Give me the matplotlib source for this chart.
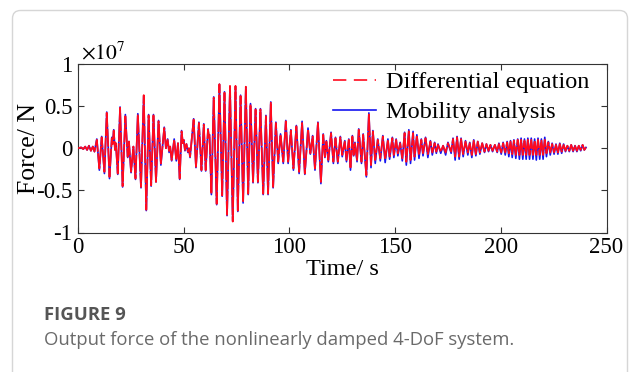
import matplotlib
matplotlib.use('Agg')
import matplotlib.pyplot as plt
from matplotlib.lines import Line2D
from matplotlib.patches import FancyBboxPatch

# ---- data (force in units of 1e7 N) ----
time_s = [
    0.0, 1.5, 2.5, 3.4, 4.3, 5.2, 6.1, 7.0, 7.8, 8.9,
    10.1, 11.2, 12.5, 13.6, 14.9, 16.0, 16.4, 16.9, 17.5, 17.9,
    18.8, 19.9, 21.1, 22.4, 23.5, 24.1, 25.1, 26.2, 27.2, 28.3,
    29.8, 31.1, 32.3, 33.4, 34.6, 35.7, 36.9, 38.1, 39.2, 40.8,
    41.6, 42.4, 43.1, 43.6, 44.3, 45.5, 46.5, 47.3, 48.1, 49.0,
    49.6, 50.0, 50.6, 51.3, 52.0, 52.5, 53.0, 54.7, 55.8, 57.2,
    58.4, 59.5, 60.4, 61.5, 61.9, 62.2, 63.1, 64.2, 65.6, 66.9,
    68.2, 69.3, 70.5, 71.9, 73.2, 74.5, 75.6, 76.9, 78.1, 79.4,
    80.5, 81.6, 82.8, 84.0, 85.1, 86.3, 87.6, 88.9, 89.9, 91.2,
    92.3, 93.6, 94.7, 95.8, 97.1, 98.3, 99.4, 100.7, 101.9, 103.3,
    104.6, 106.0, 107.3, 108.8, 109.9, 111.0, 112.1, 113.5, 114.9, 116.0,
    116.8, 117.5, 118.4, 119.7, 120.8, 121.8, 122.9, 124.1, 125.0, 126.2,
    127.0, 128.1, 128.9, 129.8, 130.4, 131.0, 132.0, 132.8, 134.1, 134.9,
    136.4, 137.6, 138.6, 139.5, 140.6, 141.8, 143.0, 144.2, 145.3, 146.6,
    147.4, 148.7, 149.4, 150.5, 151.3, 152.4, 153.4, 154.5, 155.3, 156.5,
    157.3, 158.5, 159.2, 160.3, 161.3, 162.4, 163.2, 164.4, 165.5, 166.7,
    167.6, 168.7, 169.5, 170.3, 171.6, 172.7, 173.9, 175.0, 176.5, 177.4,
    178.4, 179.3, 180.3, 181.2, 182.2, 183.3, 184.4, 185.3, 186.3, 187.2,
    188.2, 189.1, 190.1, 191.2, 192.3, 193.2, 194.2, 195.1, 196.1, 197.2,
    198.3, 199.1, 200.2, 201.1, 202.1, 203.0, 203.8, 204.6, 205.4, 206.2,
    207.1, 208.0, 208.8, 209.6, 210.4, 211.2, 212.0, 212.8, 213.6, 214.4,
    215.2, 216.0, 216.8, 217.6, 218.4, 219.2, 220.0, 220.8, 221.6, 222.5,
    223.4, 224.3, 225.2, 226.1, 227.0, 227.9, 228.8, 229.7, 230.6, 231.5,
    232.4, 233.3, 234.2, 235.1, 236.0, 236.9, 237.8, 238.7, 239.5, 240.3,
]

force_differential = [
    0.00, 0.01, -0.01, 0.02, -0.02, 0.03, -0.03, 0.02, -0.04, 0.10,
    -0.24, 0.13, -0.28, 0.42, -0.34, 0.12, 0.05, 0.21, -0.02, 0.06,
    -0.30, 0.48, -0.45, 0.38, -0.10, 0.08, -0.28, 0.02, -0.36, 0.40,
    -0.46, 0.63, -0.73, 0.39, -0.44, 0.39, -0.40, 0.32, -0.18, 0.24,
    0.00, 0.10, -0.04, 0.02, -0.14, 0.10, -0.14, 0.06, -0.36, 0.20,
    0.06, 0.10, -0.02, 0.05, -0.04, 0.00, -0.10, 0.34, -0.22, 0.30,
    -0.26, 0.28, -0.26, 0.22, 0.14, 0.16, -0.54, 0.60, -0.66, 0.76,
    -0.56, 0.66, -0.79, 0.74, -0.87, 0.74, -0.74, 0.62, -0.64, 0.73,
    -0.54, 0.52, -0.40, 0.46, -0.40, 0.46, -0.54, 0.38, -0.54, 0.54,
    -0.46, 0.30, -0.16, 0.16, -0.16, 0.32, -0.16, 0.21, -0.24, 0.26,
    -0.28, 0.30, -0.30, 0.22, -0.06, 0.14, -0.24, 0.30, -0.40, 0.16,
    -0.10, 0.08, -0.14, 0.18, -0.16, 0.12, -0.16, 0.13, -0.08, 0.08,
    -0.14, 0.10, -0.24, 0.14, -0.08, 0.06, -0.14, 0.22, -0.16, 0.16,
    -0.32, 0.40, -0.20, 0.20, -0.14, 0.10, -0.12, 0.14, -0.13, 0.10,
    -0.10, 0.12, -0.08, 0.10, -0.06, 0.06, -0.12, 0.18, -0.16, 0.20,
    -0.14, 0.18, -0.10, 0.15, -0.08, 0.10, -0.06, 0.12, -0.07, 0.08,
    -0.05, 0.06, -0.04, 0.04, -0.04, 0.03, -0.05, 0.06, -0.04, 0.11,
    -0.10, 0.13, -0.10, 0.11, -0.07, 0.08, -0.05, 0.06, -0.08, 0.09,
    -0.07, 0.08, -0.05, 0.06, -0.04, 0.05, -0.03, 0.04, -0.03, 0.04,
    -0.04, 0.05, -0.05, 0.06, -0.05, 0.07, -0.06, 0.08, -0.07, 0.09,
    -0.08, 0.10, -0.08, 0.10, -0.08, 0.09, -0.08, 0.10, -0.08, 0.10,
    -0.08, 0.09, -0.08, 0.10, -0.08, 0.09, -0.08, 0.10, -0.06, 0.07,
    -0.05, 0.05, -0.05, 0.04, -0.05, 0.05, -0.04, 0.04, -0.03, 0.03,
    -0.03, 0.04, -0.03, 0.03, -0.03, 0.03, -0.02, 0.04, -0.02, 0.01,
]

force_mobility = [
    0.00, 0.01, -0.01, 0.02, -0.02, 0.03, -0.03, 0.02, -0.04, 0.11,
    -0.26, 0.14, -0.30, 0.43, -0.36, 0.13, 0.05, 0.22, -0.02, 0.06,
    -0.31, 0.49, -0.46, 0.40, -0.11, 0.08, -0.29, 0.02, -0.37, 0.41,
    -0.47, 0.62, -0.74, 0.40, -0.45, 0.40, -0.40, 0.33, -0.20, 0.25,
    0.00, 0.11, -0.05, 0.02, -0.15, 0.11, -0.15, 0.06, -0.37, 0.21,
    0.06, 0.10, -0.03, 0.05, -0.05, 0.00, -0.11, 0.35, -0.23, 0.31,
    -0.27, 0.29, -0.27, 0.23, 0.14, 0.16, -0.55, 0.61, -0.67, 0.76,
    -0.57, 0.67, -0.80, 0.73, -0.86, 0.73, -0.75, 0.63, -0.65, 0.72,
    -0.55, 0.53, -0.41, 0.47, -0.41, 0.47, -0.55, 0.39, -0.55, 0.55,
    -0.47, 0.31, -0.18, 0.17, -0.18, 0.33, -0.18, 0.22, -0.26, 0.27,
    -0.30, 0.32, -0.31, 0.24, -0.07, 0.15, -0.26, 0.31, -0.42, 0.17,
    -0.11, 0.09, -0.16, 0.19, -0.18, 0.13, -0.18, 0.14, -0.10, 0.09,
    -0.16, 0.11, -0.26, 0.15, -0.09, 0.07, -0.16, 0.23, -0.18, 0.17,
    -0.34, 0.42, -0.23, 0.21, -0.18, 0.11, -0.15, 0.15, -0.17, 0.11,
    -0.13, 0.13, -0.11, 0.11, -0.09, 0.07, -0.15, 0.19, -0.20, 0.22,
    -0.18, 0.20, -0.14, 0.16, -0.12, 0.11, -0.09, 0.13, -0.11, 0.09,
    -0.08, 0.07, -0.06, 0.05, -0.06, 0.03, -0.08, 0.07, -0.06, 0.12,
    -0.14, 0.14, -0.13, 0.12, -0.10, 0.09, -0.08, 0.07, -0.11, 0.10,
    -0.09, 0.08, -0.07, 0.06, -0.05, 0.05, -0.04, 0.04, -0.04, 0.04,
    -0.05, 0.06, -0.07, 0.07, -0.08, 0.08, -0.10, 0.09, -0.11, 0.10,
    -0.12, 0.11, -0.13, 0.12, -0.13, 0.11, -0.13, 0.12, -0.13, 0.12,
    -0.13, 0.11, -0.14, 0.12, -0.13, 0.11, -0.13, 0.13, -0.10, 0.08,
    -0.08, 0.06, -0.07, 0.05, -0.07, 0.06, -0.06, 0.05, -0.04, 0.03,
    -0.04, 0.04, -0.04, 0.03, -0.04, 0.03, -0.03, 0.04, -0.02, 0.01,
]

x_ticks = [0, 50, 100, 150, 200, 250]
x_tick_labels = ['0', '50', '100', '150', '200', '250']
y_ticks = [-1, -0.5, 0, 0.5, 1]
y_tick_labels = ['-1', '-0.5', '0', '0.5', '1']
series_labels = ['Differential equation', 'Mobility analysis']
scale_text = r'$\times10^{7}$'
x_label = 'Time/ s'
y_label = 'Force/ N'
figure_tag = 'FIGURE 9'
caption = 'Output force of the nonlinearly damped 4-DoF system.'

assert len(time_s) == len(force_differential) == len(force_mobility)

plt.rcParams['font.family'] = ['Liberation Serif', 'DejaVu Serif']
plt.rcParams['mathtext.fontset'] = 'stix'

W, H = 630, 372
fig = plt.figure(figsize=(W / 100, H / 100), dpi=100)
fig.patch.set_facecolor('white')

# card border
card = FancyBboxPatch((12.5, -30), 615, 362 + 30 - 0.5,
                      boxstyle='round,pad=0,rounding_size=8',
                      transform=None, facecolor='white',
                      edgecolor='#d6d6d6', linewidth=1.0, zorder=-10)
fig.patches.append(card)

ax_left, ax_right, ax_top, ax_bottom = 78, 606.5, 64, 232.5
ax = fig.add_axes([ax_left / W, (H - ax_bottom) / H,
                   (ax_right - ax_left) / W, (ax_bottom - ax_top) / H])
ax.set_zorder(5)
ax.set_facecolor('white')

blue_color = '#1414f0'
red_color = '#ff0a1e'
ax.plot(time_s, force_mobility, color=blue_color, lw=1.2, zorder=2)
ax.plot(time_s, force_differential, color=red_color, lw=1.3,
        dashes=(10, 0.8), zorder=3)

ax.set_xlim(0, 250)
ax.set_ylim(-1, 1)
ax.set_xticks(x_ticks)
ax.set_xticklabels(x_tick_labels)
ax.set_yticks(y_ticks)
ax.set_yticklabels(y_tick_labels)
ax.tick_params(direction='in', length=4, width=0.8, top=True, right=True,
               labelsize=16.5, pad=4, colors='#333333', labelcolor='black')
ax.tick_params(axis='x', pad=3)
for sp in ax.spines.values():
    sp.set_color('#333333')
    sp.set_linewidth(0.8)

ax.set_xlabel(x_label, fontsize=17.5, labelpad=1)
ax.set_ylabel(y_label, fontsize=18.5)
ax.yaxis.set_label_coords(-0.072, 0.5)

ax.text(0.005, 1.0, scale_text, transform=ax.transAxes, fontsize=15.5,
        ha='left', va='bottom')

h_red = Line2D([], [], color=red_color, lw=1.2, dashes=(8, 4.5))
h_blue = Line2D([], [], color=blue_color, lw=1.2)
ax.legend([h_red, h_blue], series_labels, loc='upper right',
          bbox_to_anchor=(1.0, 1.058), frameon=False, fontsize=17.5,
          handlelength=1.75, handletextpad=0.42, labelspacing=0.32,
          borderaxespad=0.3)

fig.text(44 / W, (H - 320) / H, figure_tag, family=['Open Sans', 'DejaVu Sans'],
         fontweight='bold', fontsize=13.3, color='#555555', va='baseline')
fig.text(44 / W, (H - 345) / H, caption, family=['Open Sans', 'DejaVu Sans'],
         fontsize=13.3, color='#6a6a6a', va='baseline')

fig.savefig('out.png', dpi=100, facecolor='white')
